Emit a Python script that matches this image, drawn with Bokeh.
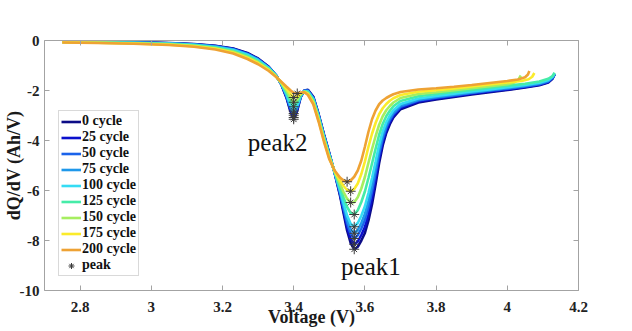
import numpy as np
from bokeh.plotting import figure
from bokeh.models import Range1d, LinearAxis, FixedTicker, Label
from bokeh.embed import file_html
from bokeh.resources import INLINE

# ---- data -------------------------------------------------------------
cycle_labels = ["0 cycle", "25 cycle", "50 cycle", "75 cycle", "100 cycle",
                "125 cycle", "150 cycle", "175 cycle", "200 cycle"]

# shared voltage grid (V) for the body of every dQ/dV curve
voltage = [2.75, 2.85, 2.95, 3.05, 3.12, 3.18, 3.23, 3.27, 3.30, 3.33, 3.35,
           3.365, 3.38, 3.39, 3.40, 3.41, 3.42, 3.43, 3.44, 3.455, 3.47,
           3.485, 3.50, 3.515, 3.53, 3.54, 3.55, 3.56, 3.57, 3.58, 3.59,
           3.60, 3.61, 3.62, 3.63, 3.64, 3.65, 3.66, 3.67, 3.68, 3.70, 3.75,
           3.80, 3.85, 3.90, 3.95, 4.00]

dqdv_0 = [-0.05, -0.06, -0.07, -0.10, -0.14, -0.21, -0.32, -0.50, -0.72, -1.05,
          -1.38, -1.75, -2.30, -2.80, -3.15, -2.80, -2.25, -2.00, -1.97, -2.25,
          -2.95, -3.75, -4.50, -5.30, -6.20, -6.90, -7.60, -8.10, -8.35, -8.25,
          -8.00, -7.70, -7.20, -6.55, -5.75, -4.90, -4.20, -3.70, -3.35, -3.08,
          -2.75, -2.48, -2.36, -2.26, -2.16, -2.07, -1.98]
dqdv_25 = [-0.05, -0.06, -0.07, -0.11, -0.15, -0.22, -0.33, -0.52, -0.74, -1.06,
           -1.39, -1.74, -2.27, -2.74, -3.08, -2.75, -2.24, -2.00, -1.99, -2.27,
           -2.97, -3.77, -4.52, -5.29, -6.15, -6.81, -7.46, -7.93, -8.15, -8.04,
           -7.78, -7.46, -6.95, -6.31, -5.54, -4.74, -4.07, -3.60, -3.27, -3.02,
           -2.70, -2.44, -2.33, -2.23, -2.13, -2.04, -1.96]
dqdv_50 = [-0.05, -0.07, -0.08, -0.11, -0.16, -0.23, -0.35, -0.54, -0.75, -1.08,
           -1.39, -1.74, -2.23, -2.68, -2.99, -2.70, -2.22, -2.01, -2.00, -2.30,
           -3.00, -3.80, -4.54, -5.29, -6.09, -6.71, -7.31, -7.73, -7.92, -7.79,
           -7.52, -7.18, -6.67, -6.04, -5.31, -4.55, -3.93, -3.49, -3.18, -2.94,
           -2.65, -2.40, -2.29, -2.20, -2.10, -2.01, -1.93]
dqdv_75 = [-0.06, -0.07, -0.08, -0.12, -0.16, -0.24, -0.36, -0.55, -0.77, -1.09,
           -1.40, -1.73, -2.20, -2.62, -2.92, -2.65, -2.21, -2.02, -2.02, -2.32,
           -3.02, -3.82, -4.56, -5.28, -6.04, -6.61, -7.17, -7.55, -7.71, -7.58,
           -7.30, -6.94, -6.42, -5.80, -5.10, -4.38, -3.80, -3.39, -3.10, -2.88,
           -2.60, -2.37, -2.26, -2.17, -2.08, -1.99, -1.90]
dqdv_100 = [-0.06, -0.07, -0.09, -0.12, -0.17, -0.26, -0.38, -0.57, -0.79, -1.10,
            -1.40, -1.72, -2.16, -2.55, -2.82, -2.59, -2.20, -2.02, -2.04, -2.34,
            -3.04, -3.84, -4.58, -5.27, -5.98, -6.50, -7.00, -7.33, -7.45, -7.30,
            -7.01, -6.63, -6.10, -5.50, -4.84, -4.17, -3.64, -3.27, -3.00, -2.79,
            -2.54, -2.32, -2.22, -2.13, -2.04, -1.96, -1.87]
dqdv_125 = [-0.06, -0.08, -0.10, -0.14, -0.19, -0.28, -0.42, -0.62, -0.83, -1.13,
            -1.41, -1.70, -2.08, -2.41, -2.65, -2.47, -2.17, -2.03, -2.07, -2.39,
            -3.09, -3.89, -4.62, -5.25, -5.85, -6.28, -6.66, -6.90, -6.96, -6.79,
            -6.46, -6.04, -5.50, -4.92, -4.33, -3.77, -3.34, -3.03, -2.81, -2.63,
            -2.42, -2.23, -2.14, -2.06, -1.98, -1.89, -1.81]
dqdv_150 = [-0.07, -0.09, -0.11, -0.15, -0.21, -0.31, -0.45, -0.66, -0.87, -1.16,
            -1.43, -1.69, -2.01, -2.27, -2.47, -2.36, -2.14, -2.05, -2.11, -2.45,
            -3.15, -3.95, -4.66, -5.24, -5.73, -6.06, -6.33, -6.48, -6.47, -6.27,
            -5.92, -5.46, -4.89, -4.34, -3.83, -3.37, -3.03, -2.79, -2.62, -2.48,
            -2.30, -2.14, -2.07, -1.99, -1.91, -1.83, -1.75]
dqdv_175 = [-0.07, -0.09, -0.12, -0.17, -0.23, -0.33, -0.49, -0.70, -0.91, -1.19,
            -1.44, -1.67, -1.93, -2.12, -2.28, -2.24, -2.11, -2.06, -2.14, -2.50,
            -3.20, -4.00, -4.71, -5.22, -5.60, -5.82, -5.98, -6.03, -5.94, -5.72,
            -5.34, -4.84, -4.25, -3.73, -3.30, -2.95, -2.71, -2.54, -2.41, -2.31,
            -2.18, -2.05, -1.99, -1.92, -1.84, -1.76, -1.68]
dqdv_200 = [-0.08, -0.10, -0.13, -0.18, -0.25, -0.36, -0.52, -0.74, -0.95, -1.22,
            -1.45, -1.65, -1.85, -1.98, -2.10, -2.12, -2.08, -2.07, -2.18, -2.55,
            -3.25, -4.05, -4.75, -5.20, -5.48, -5.60, -5.65, -5.60, -5.45, -5.20,
            -4.80, -4.25, -3.65, -3.15, -2.80, -2.55, -2.40, -2.30, -2.22, -2.15,
            -2.06, -1.96, -1.91, -1.85, -1.78, -1.70, -1.62]

# end-of-charge tails (each cycle stops at its own cut-off voltage)
tail_voltage_long = [4.05, 4.09, 4.115, 4.127, 4.133]
tail_0 = [-1.88, -1.79, -1.68, -1.53, -1.36]
tail_25 = [-1.86, -1.77, -1.66, -1.51, -1.35]
tail_50 = [-1.84, -1.75, -1.64, -1.49, -1.34]
tail_75 = [-1.81, -1.72, -1.61, -1.47, -1.33]
tail_100 = [-1.78, -1.69, -1.58, -1.45, -1.31]
tail_125 = [-1.73, -1.64, -1.53, -1.42, -1.29]
tail_voltage_150 = [4.02, 4.032, 4.038]
tail_150 = [-1.68, -1.55, -1.40]
tail_voltage_175 = [4.04, 4.06, 4.07, 4.076]
tail_175 = [-1.62, -1.55, -1.45, -1.30]
tail_voltage_200 = [4.03, 4.05, 4.058, 4.062]
tail_200 = [-1.56, -1.47, -1.36, -1.22]

x_ticks = [2.8, 3.0, 3.2, 3.4, 3.6, 3.8, 4.0, 4.2]
x_tick_labels = ["2.8", "3", "3.2", "3.4", "3.6", "3.8", "4", "4.2"]
y_ticks = [0, -2, -4, -6, -8, -10]
y_tick_labels = ["0", "-2", "-4", "-6", "-8", "-10"]

# ---- styling ----------------------------------------------------------
palette = ["#0c0c86", "#0b10cc", "#1b63ea", "#1f98ea", "#35dcf4",
           "#45eca8", "#a6ee60", "#fbeb2a", "#eea234"]
SERIF = "Liberation Serif"
FRAME_GREY = "#a3a3a3"

bodies = [dqdv_0, dqdv_25, dqdv_50, dqdv_75, dqdv_100,
          dqdv_125, dqdv_150, dqdv_175, dqdv_200]
tails = [(tail_voltage_long, tail_0), (tail_voltage_long, tail_25),
         (tail_voltage_long, tail_50), (tail_voltage_long, tail_75),
         (tail_voltage_long, tail_100), (tail_voltage_long, tail_125),
         (tail_voltage_150, tail_150), (tail_voltage_175, tail_175),
         (tail_voltage_200, tail_200)]

p = figure(width=632, height=331, output_backend="svg", toolbar_location=None,
           x_range=Range1d(2.7, 4.2), y_range=Range1d(-10, 0),
           min_border_left=43, min_border_right=54,
           min_border_top=40, min_border_bottom=41)
p.outline_line_color = None
p.xgrid.visible = False
p.ygrid.visible = False
p.background_fill_color = "white"
p.border_fill_color = "white"

peak1_v, peak1_q, peak2_v, peak2_q = [], [], [], []
for label, color, body, (tv, tq) in zip(cycle_labels, palette, bodies, tails):
    v = np.array(voltage + tv)
    q = np.array(body + tq)
    p.line(v, q, line_color=color, line_width=2.6, legend_label=label)
    # main and secondary minima of this cycle
    m1 = v > 3.5
    i1 = np.argmin(q[m1])
    peak1_v.append(v[m1][i1]); peak1_q.append(q[m1][i1])
    m2 = (v > 3.37) & (v < 3.43)
    i2 = np.argmin(q[m2])
    peak2_v.append(v[m2][i2]); peak2_q.append(q[m2][i2])

# eight-spoked star: a "+" and an "x" on the same points
star_v = peak1_v + peak2_v
star_q = peak1_q + peak2_q
p.scatter(star_v, star_q, marker="cross", size=10, line_color="#3a3a3a",
          line_width=1, legend_label="peak")
p.scatter(star_v, star_q, marker="x", size=8, line_color="#3a3a3a",
          line_width=1, legend_label="peak")

p.add_layout(Label(x=3.355, y=-4.08, text="peak2", text_font=SERIF,
                   text_font_size="25px", text_color="#111111",
                   text_align="center", text_baseline="alphabetic"))
p.add_layout(Label(x=3.617, y=-9.04, text="peak1", text_font=SERIF,
                   text_font_size="25px", text_color="#111111",
                   text_align="center", text_baseline="alphabetic"))

# boxed frame with inward ticks on all four sides
x_overrides = {t: s for t, s in zip(x_ticks, x_tick_labels)}
y_overrides = {t: s for t, s in zip(y_ticks, y_tick_labels)}


def style_axis(ax):
    ax.axis_line_color = FRAME_GREY
    ax.major_tick_line_color = FRAME_GREY
    ax.major_tick_in = 5
    ax.major_tick_out = 0
    ax.minor_tick_line_color = None
    ax.major_label_text_font = SERIF
    ax.major_label_text_font_style = "bold"
    ax.major_label_text_color = "#222222"
    ax.major_label_text_font_size = "15px"
    ax.axis_label_text_font = SERIF
    ax.axis_label_text_font_style = "bold"
    ax.axis_label_text_font_size = "18px"
    ax.axis_label_text_color = "#1a1a1a"


xa = p.xaxis[0]
ya = p.yaxis[0]
style_axis(xa)
style_axis(ya)
xa.ticker = FixedTicker(ticks=x_ticks)
xa.major_label_overrides = x_overrides
xa.major_label_standoff = 11
xa.axis_label = "Voltage (V)"
xa.axis_label_standoff = -8
ya.ticker = FixedTicker(ticks=y_ticks)
ya.major_label_overrides = y_overrides
ya.major_label_standoff = 5
ya.axis_label = "dQ/dV (Ah/V)"
ya.axis_label_standoff = -7

top = LinearAxis(ticker=FixedTicker(ticks=x_ticks),
                 major_label_overrides={t: "" for t in x_ticks})
right = LinearAxis(ticker=FixedTicker(ticks=y_ticks),
                   major_label_overrides={t: "" for t in y_ticks})
style_axis(top)
style_axis(right)
p.add_layout(top, "above")
p.add_layout(right, "right")

lg = p.legend[0]
lg.location = (14, 14)
lg.border_line_color = "#b4b4b4"
lg.border_line_width = 1
lg.background_fill_color = "white"
lg.background_fill_alpha = 1
lg.padding = 2
lg.spacing = 0
lg.margin = 0
lg.glyph_width = 20
lg.glyph_height = 15
lg.label_height = 15
lg.label_standoff = 1
lg.label_text_font = SERIF
lg.label_text_font_style = "bold"
lg.label_text_font_size = "14px"
lg.label_text_line_height = 1.0
lg.label_text_color = "#111111"

open("out.html", "w").write(file_html(p, INLINE))
